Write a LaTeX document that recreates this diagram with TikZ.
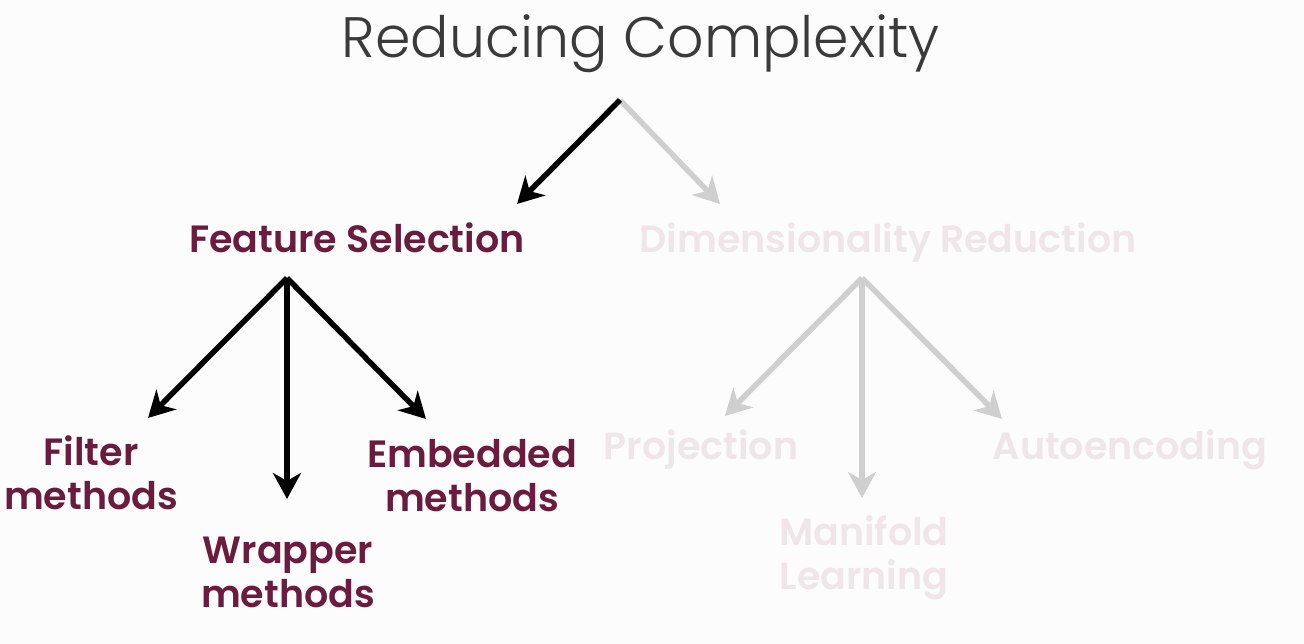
\documentclass[tikz,border=0pt]{standalone}
\usepackage{fontspec}
\setmainfont{Poppins}
\newfontfamily\lightfont{Poppins Light}
\newfontfamily\medfont{Poppins SemiBold}
\usetikzlibrary{arrows.meta}
\definecolor{bg}{HTML}{FCFCFC}
\definecolor{maroon}{HTML}{6A1B3E}
\definecolor{fadetext}{HTML}{F0E6E9}
\definecolor{fadearrow}{HTML}{CFCFCF}
\definecolor{titlegray}{HTML}{3A3A3A}
\tikzset{
  lbl/.style={font=\medfont\fontsize{38}{44}\selectfont, text=maroon, align=center, inner sep=0pt},
  fadelbl/.style={lbl, text=fadetext},
  arr/.style={line width=5.5pt, draw=black, -{Stealth[length=26pt,width=28pt,inset=8pt]}},
  fadearr/.style={arr, draw=fadearrow}
}
\begin{document}
\begin{tikzpicture}[x=1pt,y=-1pt]
\fill[bg] (0,0) rectangle (1304,644);
\useasboundingbox (0,0) rectangle (1304,644);
\node[font=\lightfont\fontsize{57}{64}\selectfont, text=titlegray, inner sep=0pt, anchor=base] (title) at (641,58) {Reducing Complexity};
\node[lbl, anchor=base] (fs) at (357,253) {Feature Selection};
\node[fadelbl, anchor=base] (dr) at (888,253) {Dimensionality Reduction};
\node[lbl] (filter) at (91,472.5) {Filter\\methods};
\node[lbl] (wrapper) at (288,572.5) {Wrapper\\methods};
\node[lbl] (embedded) at (472,475.5) {Embedded\\methods};
\node[fadelbl, anchor=base] (proj) at (701,459) {Projection};
\node[fadelbl] (manifold) at (864,558) {Manifold\\Learning};
\node[fadelbl, anchor=base] (auto) at (1130,459) {Autoencoding};
\coordinate (t0) at (620,100);
\coordinate (fsin) at (517,204);
\coordinate (drin) at (720,204);
\coordinate (fs0) at (287,278);
\coordinate (filterin) at (148,418);
\coordinate (wrapperin) at (287,499);
\coordinate (embeddedin) at (426,419);
\coordinate (dr0) at (862,278);
\coordinate (projin) at (725,416);
\coordinate (manifoldin) at (862,498);
\coordinate (autoin) at (1002,419);
\draw[fadearr] (t0) -- (drin);
\draw[arr] (t0) -- (fsin);
\draw[arr] (fs0) -- (filterin);
\draw[arr] (fs0) -- (wrapperin);
\draw[arr] (fs0) -- (embeddedin);
\draw[fadearr] (dr0) -- (projin);
\draw[fadearr] (dr0) -- (manifoldin);
\draw[fadearr] (dr0) -- (autoin);
\end{tikzpicture}
\end{document}
